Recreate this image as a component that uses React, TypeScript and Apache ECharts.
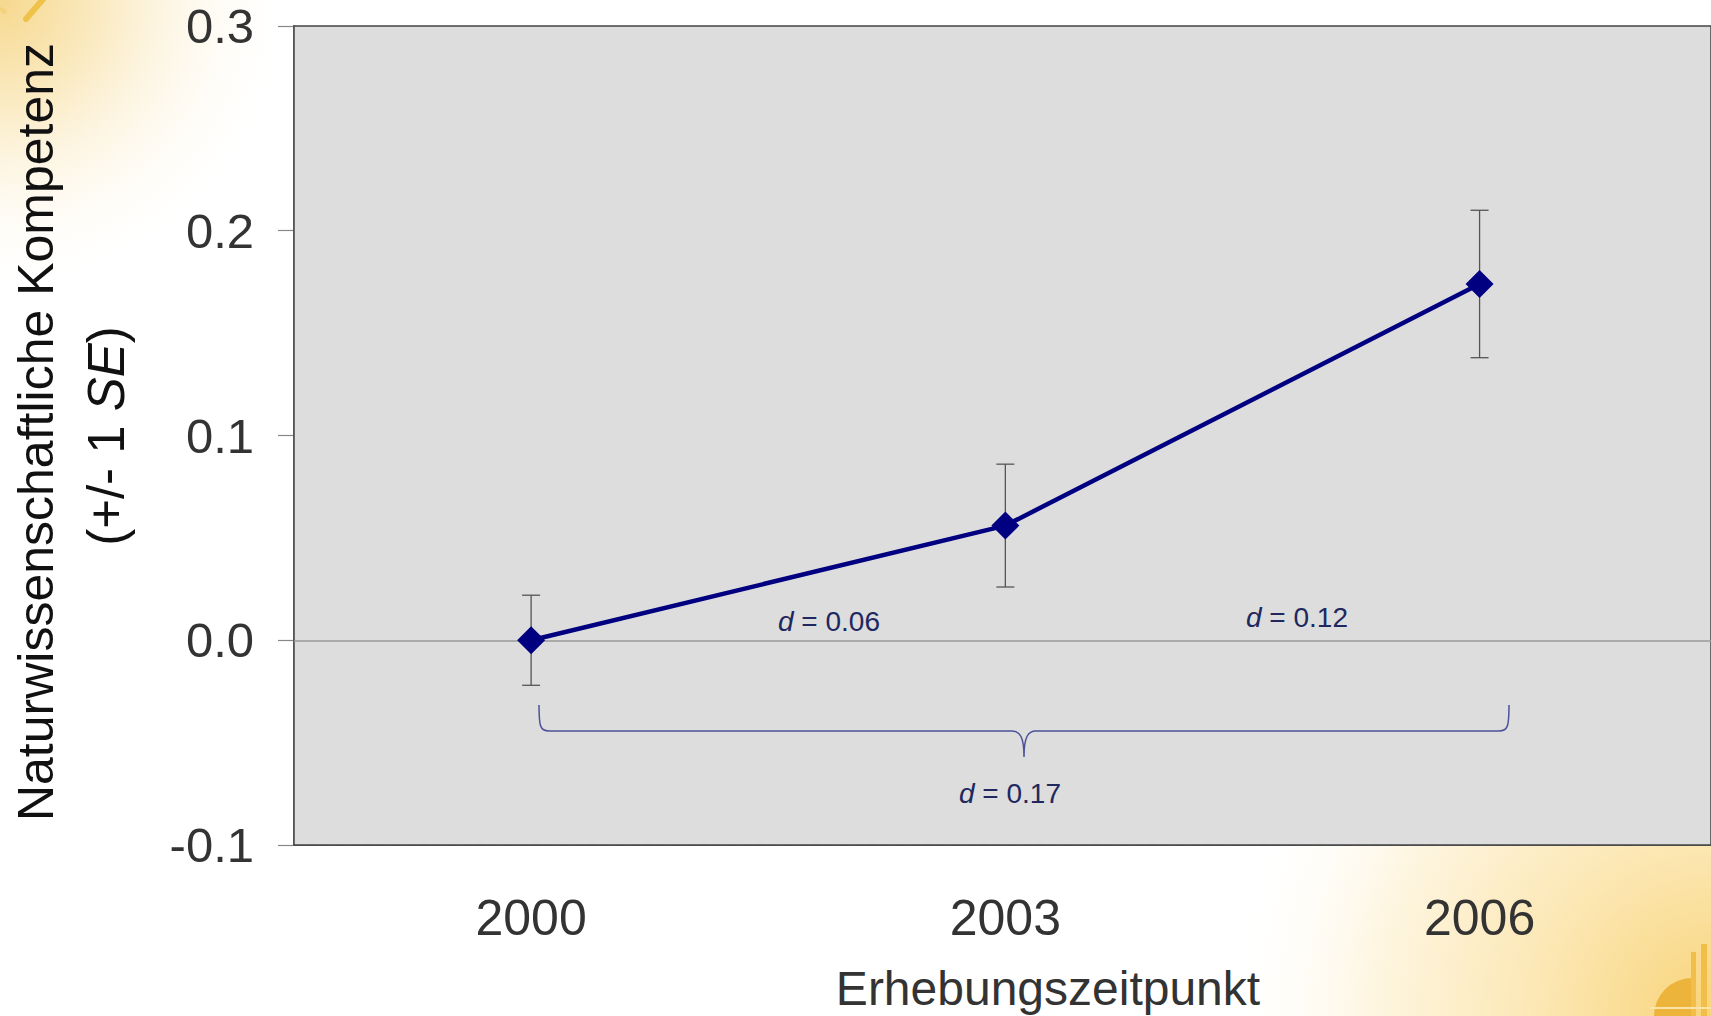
import React, { useEffect, useRef } from "react";
import * as echarts from "echarts";

const years = ["2000", "2003", "2006"];
const means = [0.0, 0.056, 0.174];
const stdErrors = [0.022, 0.030, 0.036];
const yTicks = { min: -0.1, max: 0.3, interval: 0.1 };
const effectLabels = [
  { text: "0.06", x: 829, y: 621 },
  { text: "0.12", x: 1297, y: 617 },
  { text: "0.17", x: 1010, y: 793 },
];

const FONT = "'Liberation Sans', Arial, Helvetica, sans-serif";

echarts.graphic.registerShape(
  "brace",
  echarts.graphic.extendPath(
    "M539,705 C539,726 540,731 549,731 L1012,731 C1020,731 1024,737 1024,757 C1024,737 1028,731 1036,731 L1499,731 C1508,731 1509,726 1509,705",
    {}
  )
);

export default function App() {
  const ref = useRef<HTMLDivElement>(null);
  useEffect(() => {
    if (!ref.current) return;
    const chart = echarts.init(ref.current, undefined, { renderer: "svg" });
    const idx = years.map((_, i) => i);
    const errData = idx.map((i) => [i, means[i] - stdErrors[i], means[i] + stdErrors[i]]);
    chart.setOption({
      animation: false,
      backgroundColor: "#ffffff",
      grid: {
        left: 294,
        top: 26,
        right: 0,
        bottom: 171,
        show: true,
        backgroundColor: "#DDDDDD",
        borderColor: "#444444",
        borderWidth: 1.5,
        z: 1,
      },
      xAxis: {
        type: "value",
        min: -0.5,
        max: 2.488,
        axisTick: { show: false },
        axisLine: { show: true, onZero: false, lineStyle: { color: "#444444", width: 1.5 } },
        axisLabel: {
          fontSize: 50,
          color: "#333333",
          fontFamily: FONT,
          margin: 48,
          customValues: idx,
          formatter: (v: number) => years[Math.round(v)] ?? "",
        },
        splitLine: { show: false },
      },
      yAxis: {
        type: "value",
        min: yTicks.min,
        max: yTicks.max,
        interval: yTicks.interval,
        axisLine: { show: true, onZero: false, lineStyle: { color: "#888888", width: 2 } },
        axisTick: { show: true, inside: false, length: 16, lineStyle: { color: "#888888", width: 1.2 } },
        axisLabel: {
          fontSize: 49,
          color: "#333333",
          fontFamily: FONT,
          margin: 40,
          formatter: (v: number) => v.toFixed(1),
        },
        splitLine: { show: true, lineStyle: { color: "#AAAAAA", type: [8, 6], width: 1 } },
      },
      series: [
        {
          type: "custom",
          name: "SE",
          z: 3,
          data: errData,
          renderItem: (params: any, api: any) => {
            const x = api.value(0);
            const lo = api.coord([x, api.value(1)]);
            const hi = api.coord([x, api.value(2)]);
            const cap = 9;
            const st = { stroke: "#555555", lineWidth: 1.3 };
            return {
              type: "group",
              children: [
                { type: "line", shape: { x1: hi[0], y1: hi[1], x2: lo[0], y2: lo[1] }, style: st },
                { type: "line", shape: { x1: hi[0] - cap, y1: hi[1], x2: hi[0] + cap, y2: hi[1] }, style: st },
                { type: "line", shape: { x1: lo[0] - cap, y1: lo[1], x2: lo[0] + cap, y2: lo[1] }, style: st },
              ],
            };
          },
          markLine: {
            silent: true,
            symbol: "none",
            label: { show: false },
            lineStyle: { color: "#999999", type: "solid", width: 1.5 },
            data: [{ yAxis: 0 }],
            z: 2,
          },
        },
        {
          type: "line",
          name: "Mittelwert",
          z: 5,
          data: idx.map((i) => [i, means[i]]),
          symbol: "diamond",
          symbolSize: 28,
          lineStyle: { color: "#000080", width: 4.5 },
          itemStyle: { color: "#000080" },
        },
      ],
      graphic: [
        {
          type: "rect",
          z: -10,
          silent: true,
          shape: { x: 0, y: 0, width: 1711, height: 1016 },
          style: {
            fill: {
              type: "radial",
              x: 0,
              y: 0,
              r: 300,
              global: true,
              colorStops: [
                { offset: 0, color: "#F6D88E" },
                { offset: 0.35, color: "#FBEBC4" },
                { offset: 1, color: "rgba(255,255,255,0)" },
              ],
            },
          },
        },
        {
          type: "rect",
          z: -9,
          silent: true,
          shape: { x: 0, y: 0, width: 1711, height: 1016 },
          style: {
            fill: {
              type: "radial",
              x: 1711,
              y: 1016,
              r: 490,
              global: true,
              colorStops: [
                { offset: 0, color: "#F8D47A" },
                { offset: 0.35, color: "#FCE7B3" },
                { offset: 0.7, color: "#FEF6E2" },
                { offset: 1, color: "rgba(255,255,255,0)" },
              ],
            },
          },
        },
        {
          type: "line",
          z: -8,
          silent: true,
          shape: { x1: 26, y1: 19, x2: 44, y2: -2 },
          style: { stroke: "#EFC24A", lineWidth: 6, lineCap: "round" },
        },
        {
          type: "line",
          z: -8,
          silent: true,
          shape: { x1: 0, y1: 8, x2: 6, y2: 13 },
          style: { stroke: "#F3D27A", lineWidth: 4 },
        },
        {
          type: "sector",
          z: -8,
          silent: true,
          shape: { cx: 1692, cy: 1016, r: 38, r0: 0, startAngle: Math.PI, endAngle: Math.PI * 1.5, clockwise: true },
          style: { fill: "#EDB43C" },
        },
        {
          type: "rect",
          z: -8,
          silent: true,
          shape: { x: 1691, y: 952, width: 5, height: 64 },
          style: { fill: "#F1BE4A" },
        },
        {
          type: "rect",
          z: -8,
          silent: true,
          shape: { x: 1701, y: 944, width: 6, height: 72 },
          style: { fill: "#F1BE4A" },
        },
        {
          type: "line",
          z: -7,
          silent: true,
          shape: { x1: 1650, y1: 1008, x2: 1711, y2: 1008 },
          style: { stroke: "#FBE3A8", lineWidth: 2 },
        },
        {
          type: "brace",
          z: 50,
          silent: true,
          x: 0,
          y: 0,
          style: { stroke: "#4D5199", lineWidth: 1.5, fill: "none" },
        },
        ...effectLabels.map((l) => ({
          type: "text",
          z: 50,
          silent: true,
          x: l.x,
          y: l.y,
          style: {
            text: "{i|d}{n| = " + l.text + "}",
            align: "center",
            verticalAlign: "middle",
            rich: {
              i: { fontStyle: "italic", fontSize: 28, fontFamily: FONT, fill: "#202860" },
              n: { fontSize: 28, fontFamily: FONT, fill: "#202860" },
            },
          },
        })),
        {
          type: "text",
          z: 50,
          silent: true,
          x: 36,
          y: 432,
          rotation: Math.PI / 2,
          style: {
            text: "Naturwissenschaftliche Kompetenz",
            align: "center",
            verticalAlign: "middle",
            fontSize: 50,
            fontFamily: FONT,
            fill: "#111111",
          },
        },
        {
          type: "text",
          z: 50,
          silent: true,
          x: 106,
          y: 436,
          rotation: Math.PI / 2,
          style: {
            text: "{n|(+/- 1 }{i|SE}{n|)}",
            align: "center",
            verticalAlign: "middle",
            rich: {
              n: { fontSize: 51, fontFamily: FONT, fill: "#111111" },
              i: { fontSize: 51, fontFamily: FONT, fontStyle: "italic", fill: "#111111" },
            },
          },
        },
        {
          type: "text",
          z: 50,
          silent: true,
          x: 1048,
          y: 988,
          style: {
            text: "Erhebungszeitpunkt",
            align: "center",
            verticalAlign: "middle",
            fontSize: 48,
            fontFamily: FONT,
            fill: "#333333",
          },
        },
      ],
    });
    return () => chart.dispose();
  }, []);
  return (
    <div
      ref={ref}
      style={{ position: "absolute", left: 0, top: 0, width: 1711, height: 1016 }}
    />
  );
}
